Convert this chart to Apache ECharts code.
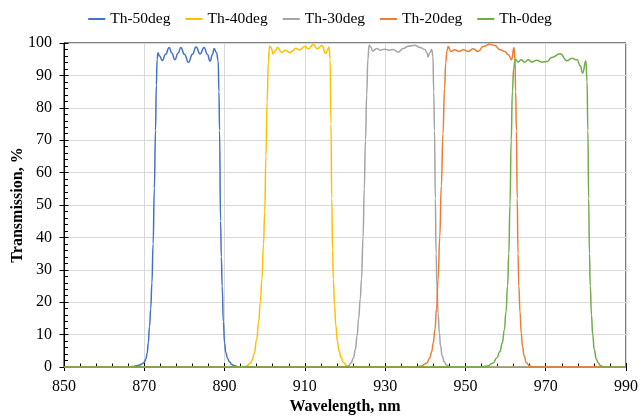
<!DOCTYPE html>
<html>
<head>
<meta charset="utf-8">
<script src="https://cdn.jsdelivr.net/npm/echarts@6/dist/echarts.min.js"></script>
<style>
html,body{margin:0;padding:0;background:#fff;}
#chart{width:640px;height:418px;}
</style>
</head>
<body>
<div id="chart"></div>
<script>
// ---- Data ----
const seriesNames = ['Th-50deg', 'Th-40deg', 'Th-30deg', 'Th-20deg', 'Th-0deg'];

const wl50 = [850, 864, 866, 867, 868, 868.8, 869.5, 870.0, 870.4, 870.7, 871.0, 871.3, 871.6, 871.9, 872.2, 872.5, 872.8, 873.0, 873.2, 873.4, 873.8, 874.5, 875.3, 876.2, 876.9, 877.6, 878.4, 879.1, 880.0, 881.0, 882.0, 882.9, 883.9, 884.9, 885.7, 886.4, 887.0, 887.4, 888.0, 888.4, 888.6, 888.75, 889.0, 889.2, 889.4, 889.7, 890.0, 890.3, 890.7, 891.2, 891.8, 892.5, 893.3, 894.5, 990];
const t50  = [0, 0, 0.05, 0.15, 0.35, 0.6, 1.0, 1.5, 2.5, 4.2, 7.5, 12.5, 18, 26, 38, 55, 73, 87, 95, 97.0, 96.0, 94.6, 96.5, 98.6, 96.8, 94.8, 96.8, 98.6, 96.5, 94.0, 96.5, 98.8, 96.6, 98.6, 96.5, 94.4, 96.5, 98.3, 97.0, 94.5, 85, 73, 45, 34, 25, 14, 7.5, 4.5, 2.8, 1.6, 0.8, 0.35, 0.1, 0, 0];

const wl40 = [850, 894.5, 895.5, 896.3, 896.9, 897.4, 898.0, 898.5, 898.9, 899.3, 899.7, 900.0, 900.3, 900.6, 900.9, 901.2, 901.6, 902.1, 902.6, 903.2, 904.2, 905.2, 906.3, 907.0, 907.7, 908.6, 910.0, 910.9, 912.1, 913.1, 914.2, 915.2, 915.7, 916.0, 916.3, 916.5, 916.7, 916.9, 917.1, 917.4, 917.7, 918.1, 918.5, 919.0, 919.6, 920.3, 921.2, 922, 990];
const t40  = [0, 0, 0.3, 1.0, 2.2, 4.2, 8.5, 14, 20, 27, 38, 48, 65, 82, 94, 99.0, 98.5, 96.7, 97.5, 98.6, 97.1, 97.8, 97.0, 97.6, 98.4, 97.9, 98.9, 98.2, 99.5, 98.2, 99.2, 96.8, 98.0, 98.8, 95, 75, 52, 36, 27, 19, 13, 8, 5, 3, 1.4, 0.5, 0.1, 0, 0];

const wl30 = [850, 920.0, 920.8, 921.5, 922.1, 922.6, 923.0, 923.4, 923.8, 924.1, 924.5, 924.8, 925.1, 925.4, 925.7, 926.0, 926.4, 926.9, 927.9, 928.7, 930.0, 931.0, 932.0, 933.3, 934.5, 935.8, 937.4, 938.7, 939.9, 940.4, 940.7, 941.1, 941.6, 941.9, 942.1, 942.3, 942.5, 942.7, 942.9, 943.2, 943.5, 943.8, 944.2, 944.7, 945.3, 946.1, 947, 990];
const t30  = [0, 0, 0.3, 1.2, 2.8, 5.5, 9.5, 15, 21, 27, 40, 55, 70, 84, 95, 99.3, 98.8, 97.5, 98.3, 97.8, 98.1, 97.8, 98.0, 97.2, 98.3, 99.0, 99.3, 98.6, 98.0, 97.0, 95.7, 97.0, 98.0, 96, 85, 73, 52, 35, 25, 16.5, 10.5, 6.5, 3.5, 1.6, 0.6, 0.1, 0, 0];

const wl20 = [850, 937.5, 939.0, 940.4, 941.1, 941.6, 942.0, 942.4, 942.8, 943.2, 943.6, 944.0, 944.4, 944.8, 945.1, 945.4, 945.7, 946.4, 947.4, 948.4, 949.5, 950.7, 951.9, 953.2, 954.4, 956.1, 957.3, 958.6, 959.8, 960.7, 961.5, 962.1, 962.35, 962.5, 962.7, 962.9, 963.1, 963.3, 963.6, 963.9, 964.2, 964.6, 965.2, 965.9, 966.8, 967.5, 990];
const t20  = [0, 0, 0.3, 1.2, 2.8, 4.8, 7.5, 11.5, 18, 27, 40, 56, 72, 86, 94, 97.5, 98.9, 97.4, 97.9, 97.4, 97.9, 97.4, 98.2, 97.4, 98.9, 99.6, 99.2, 97.9, 97.4, 96.4, 94.8, 98.6, 95, 85, 73, 52, 35, 25, 17, 10.5, 6.5, 3.5, 1.3, 0.4, 0.05, 0, 0];

const wl0 = [850, 953.5, 955.5, 956.9, 957.8, 958.6, 959.2, 959.7, 960.1, 960.5, 960.8, 961.1, 961.4, 961.7, 962.0, 962.4, 963.1, 963.9, 964.7, 965.7, 966.5, 967.8, 969.0, 970.3, 971.5, 973.6, 975.3, 976.5, 977.8, 978.6, 979.2, 980.0, 980.3, 980.5, 980.7, 980.9, 981.1, 981.4, 981.7, 982.1, 982.6, 983.1, 983.7, 984.4, 985.2, 990];
const t0  = [0, 0, 0.3, 1.2, 2.8, 4.8, 7.5, 11.5, 17, 25, 35, 50, 70, 85, 92, 95.1, 94.1, 94.8, 94.1, 94.8, 94.1, 94.7, 94.1, 94.3, 95.5, 96.7, 94.5, 95.3, 94.8, 93, 90.7, 94.5, 88, 73, 52, 35, 25, 16, 10, 5.3, 2.5, 1.2, 0.4, 0.05, 0, 0];

const xTickStart = 850, xTickEnd = 990, xTickStep = 20;
const yTickStart = 0, yTickEnd = 100, yTickStep = 10;

// ---- Styles ----
const colors = ['#4472C4', '#FFC000', '#A5A5A5', '#ED7D31', '#70AD47'];
const FONT = "'Liberation Serif', 'Times New Roman', serif";

const wls = [wl50, wl40, wl30, wl20, wl0];
const ts = [t50, t40, t30, t20, t0];

function zip(a, b) { return a.map((v, i) => [v, b[i]]); }

const gridBox = { left: 64, right: 14, top: 43, bottom: 51, outerBoundsMode: 'none' };

const chart = echarts.init(document.getElementById('chart'), null, { renderer: 'canvas' });
chart.setOption({
  animation: false,
  backgroundColor: '#fff',
  color: colors,
  textStyle: { fontFamily: FONT, color: '#000' },
  legend: {
    top: 6,
    left: 'center',
    itemWidth: 17,
    itemHeight: 2,
    itemGap: 15,
    icon: 'rect',
    textStyle: { fontFamily: FONT, fontSize: 15.5, color: '#000' },
    data: seriesNames
  },
  grid: [
    Object.assign({ show: true, borderColor: '#000', borderWidth: 1, backgroundColor: 'transparent' }, gridBox),
    Object.assign({ show: false }, gridBox)
  ],
  xAxis: [
    {
      type: 'value', gridIndex: 0, min: xTickStart, max: xTickEnd, interval: xTickStep,
      position: 'bottom',
      name: 'Wavelength, nm', nameLocation: 'middle', nameGap: 32, nameMoveOverlap: false,
      nameTextStyle: { fontFamily: FONT, fontSize: 16, fontWeight: 'bold', color: '#000' },
      axisLine: { show: true, onZero: false, lineStyle: { color: '#000', width: 1 } },
      axisTick: { show: true, inside: false, length: 4, lineStyle: { color: '#000', width: 1 } },
      axisLabel: { margin: 12, fontFamily: FONT, fontSize: 16, color: '#000' },
      splitLine: { show: true, lineStyle: { color: '#d9d9d9', width: 1 } }
    },
    {
      type: 'value', gridIndex: 1, min: xTickStart, max: xTickEnd, interval: xTickStep,
      position: 'bottom',
      axisLine: { show: false, onZero: false },
      axisTick: { show: true, inside: true, length: 4, lineStyle: { color: '#000', width: 1 } },
      minorTick: { show: true, splitNumber: 5, length: 3.5, lineStyle: { color: '#000', width: 1 } },
      axisLabel: { show: false },
      splitLine: { show: false }
    }
  ],
  yAxis: [
    {
      type: 'value', gridIndex: 0, min: yTickStart, max: yTickEnd, interval: yTickStep,
      position: 'left',
      name: 'Transmission, %', nameLocation: 'middle', nameGap: 38, nameMoveOverlap: false,
      nameTextStyle: { fontFamily: FONT, fontSize: 16, fontWeight: 'bold', color: '#000' },
      axisLine: { show: true, onZero: false, lineStyle: { color: '#000', width: 1 } },
      axisTick: { show: true, inside: false, length: 4.5, lineStyle: { color: '#000', width: 1 } },
      axisLabel: { margin: 12, fontFamily: FONT, fontSize: 16, color: '#000' },
      splitLine: { show: true, lineStyle: { color: '#d9d9d9', width: 1 } }
    },
    {
      type: 'value', gridIndex: 1, min: yTickStart, max: yTickEnd, interval: yTickStep,
      position: 'left',
      axisLine: { show: false, onZero: false },
      axisTick: { show: true, inside: true, length: 4.5, lineStyle: { color: '#000', width: 1 } },
      minorTick: { show: true, splitNumber: 5, length: 4, lineStyle: { color: '#000', width: 1 } },
      axisLabel: { show: false },
      splitLine: { show: false }
    }
  ],
  series: seriesNames.map((name, i) => ({
    name: name,
    type: 'line',
    xAxisIndex: 0,
    yAxisIndex: 0,
    data: zip(wls[i], ts[i]),
    showSymbol: false,
    symbol: 'none',
    smooth: 0.5,
    smoothMonotone: 'x',
    lineStyle: { width: 1.5, color: colors[i] },
    itemStyle: { color: colors[i] },
    z: 2 + i
  }))
});
</script>
</body>
</html>
